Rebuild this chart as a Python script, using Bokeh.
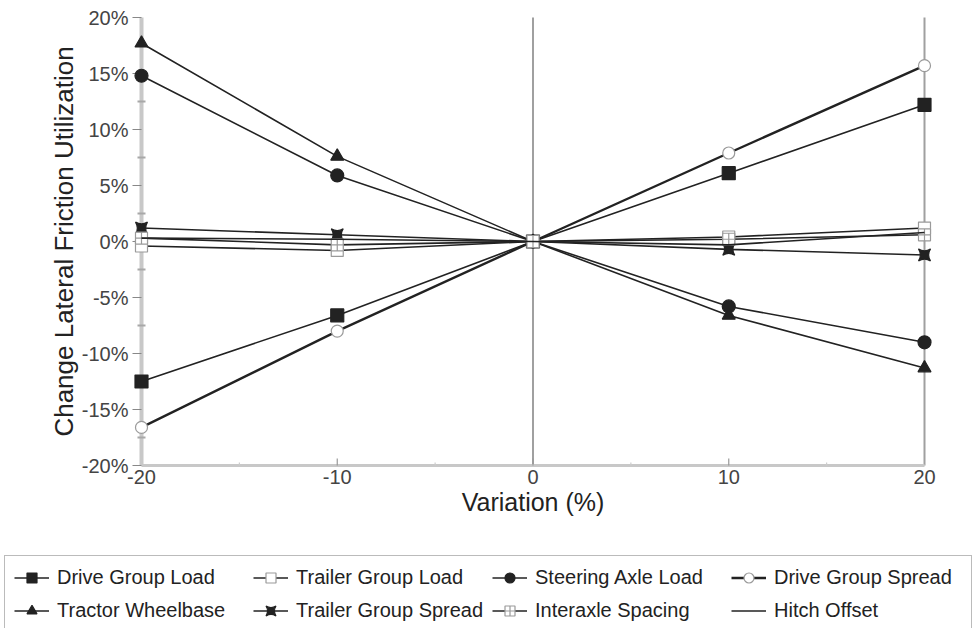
from bokeh.plotting import figure
from bokeh.models import Legend, LegendItem
from bokeh.core.properties import value
from bokeh.embed import file_html
from bokeh.resources import INLINE

variation = [-20, -10, 0, 10, 20]
drive_group_load = [-12.5, -6.6, 0, 6.1, 12.2]
trailer_group_load = [-0.4, -0.8, 0, 0.4, 1.2]
steering_axle_load = [14.8, 5.9, 0, -5.8, -9.0]
drive_group_spread = [-16.6, -8.0, 0, 7.9, 15.7]
tractor_wheelbase = [17.7, 7.6, 0, -6.6, -11.3]
trailer_group_spread = [1.2, 0.6, 0, -0.7, -1.2]
interaxle_spacing = [0.3, -0.3, 0, 0.2, 0.6]
hitch_offset = [0.3, 0.2, 0, -0.3, 0.8]

y_ticks = [-20, -15, -10, -5, 0, 5, 10, 15, 20]
y_tick_labels = ["%d%%" % t for t in y_ticks]
y_minor = [-17.5, -12.5, -7.5, -2.5, 2.5, 7.5, 12.5, 17.5]
x_ticks = [-20, -10, 0, 10, 20]
x_tick_labels = ["%d" % t for t in x_ticks]
x_minor = [-15, -5, 5, 15]
y_title = "Change Lateral Friction Utilization"
x_title = "Variation (%)"

FONT = "Liberation Sans"
W, H = 977, 628

# one frame covers the whole page; the data box (-20..20 x -20..20 %) sits at
# x = 141..924 px and y = 17..465 px, axes and legend are drawn inside the frame
PX_L, PX_R, PX_T, PX_B = 141, 924, 17, 465
FR_L, FR_R, FR_T, FR_B = 4, 975, 5, H
xppu = (PX_R - PX_L) / (x_ticks[-1] - x_ticks[0])
yppu = (PX_B - PX_T) / (y_ticks[-1] - y_ticks[0])
x_start = x_ticks[0] - (PX_L - FR_L) / xppu
x_end = x_ticks[-1] + (FR_R - PX_R) / xppu
y_start = y_ticks[0] - (FR_B - PX_B) / yppu
y_end = y_ticks[-1] + (PX_T - FR_T) / yppu

p = figure(width=W, height=H, x_range=(x_start, x_end), y_range=(y_start, y_end),
           output_backend="svg", toolbar_location=None,
           x_axis_location=None, y_axis_location=None,
           min_border_left=FR_L, min_border_right=W - FR_R,
           min_border_top=FR_T, min_border_bottom=H - FR_B)
p.outline_line_color = None
p.xgrid.visible = False
p.ygrid.visible = False

x0, x1 = x_ticks[0], x_ticks[-1]
y0, y1 = y_ticks[0], y_ticks[-1]

# box lines: left axis, centre line, right edge, bottom axis
p.segment(x0=[x0], y0=[y0], x1=[x0], y1=[y1], line_color="#c8c8c8", line_width=4)
p.segment(x0=[0, x1], y0=[y0, y0], x1=[0, x1], y1=[y1, y1], line_color="#a0a0a0", line_width=2)
p.segment(x0=[x0], y0=[y0], x1=[x1], y1=[y0], line_color="#c8c8c8", line_width=3)

# y axis from the tick arrays
p.ray(x=[x0] * len(y_ticks), y=y_ticks, length=9, length_units="screen",
      angle=180, angle_units="deg", line_color="#888888", line_width=1.2)
p.scatter([x0] * len(y_minor), y_minor, marker="dash", size=8,
          line_color="#a8a8a8", line_width=2)
p.text(x=[x0] * len(y_ticks), y=y_ticks, text=y_tick_labels,
       x_offset=-13, text_align="right", text_baseline="middle",
       text_font=value(FONT), text_font_size=value("20px"), text_color="#444444")
p.text(x=[x0], y=[0], text=[y_title], angle=90, angle_units="deg",
       x_offset=-78, text_align="center", text_baseline="middle",
       text_font=value(FONT), text_font_size=value("26px"), text_color="#222222")

# x axis from the tick arrays
p.ray(x=x_ticks[1:-1], y=[y0] * (len(x_ticks) - 2), length=7, length_units="screen",
      angle=90, angle_units="deg", line_color="#999999", line_width=1.2)
p.ray(x=x_minor, y=[y0] * len(x_minor), length=3, length_units="screen",
      angle=90, angle_units="deg", line_color="#cccccc", line_width=1.2)
p.text(x=x_ticks, y=[y0] * len(x_ticks), text=x_tick_labels,
       y_offset=4, text_align="center", text_baseline="top",
       text_font=value(FONT), text_font_size=value("20px"), text_color="#444444")
p.text(x=[0], y=[y0], text=[x_title], y_offset=22, text_align="center", text_baseline="top",
       text_font=value(FONT), text_font_size=value("25px"), text_color="#222222")

LINE = "#222222"
GRAY = "#9a9a9a"

series = [
    ("Drive Group Load", drive_group_load, "square", LINE, LINE, 13, 1.6),
    ("Trailer Group Load", trailer_group_load, "square", GRAY, "white", 12, 1.6),
    ("Steering Axle Load", steering_axle_load, "circle", LINE, LINE, 13, 1.6),
    ("Drive Group Spread", drive_group_spread, "circle", GRAY, "white", 12, 2.4),
    ("Tractor Wheelbase", tractor_wheelbase, "triangle", LINE, LINE, 13, 1.6),
    ("Trailer Group Spread", trailer_group_spread, "square_pin", LINE, LINE, 12, 1.6),
    ("Interaxle Spacing", interaxle_spacing, "square_cross", GRAY, "white", 12, 1.6),
    ("Hitch Offset", hitch_offset, None, LINE, LINE, 0, 1.6),
]
# legend is filled column by column (2 rows x 4 columns); this order reads row-wise
legend_order = [0, 4, 1, 5, 2, 6, 3, 7]

items = []
for name, vals, marker, mline, mfill, size, lw in series:
    rs = [p.line(variation, vals, line_color=LINE, line_width=lw)]
    if marker:
        rs.append(p.scatter(variation, vals, marker=marker, size=size,
                            line_color=mline, fill_color=mfill, line_width=1.2))
    items.append(LegendItem(label=name, renderers=rs))

legend = Legend(items=[items[i] for i in legend_order], location=(0, -5), ncols=4,
                border_line_color="#777777", border_line_width=1,
                background_fill_color="white", background_fill_alpha=1,
                padding=9, spacing=8, margin=0,
                glyph_width=35, glyph_height=25, label_height=25,
                label_width=188, label_standoff=8,
                label_text_font=FONT, label_text_font_size="20px",
                label_text_color="#222222")
p.add_layout(legend, "center")

open("out.html", "w").write(file_html(p, INLINE))
